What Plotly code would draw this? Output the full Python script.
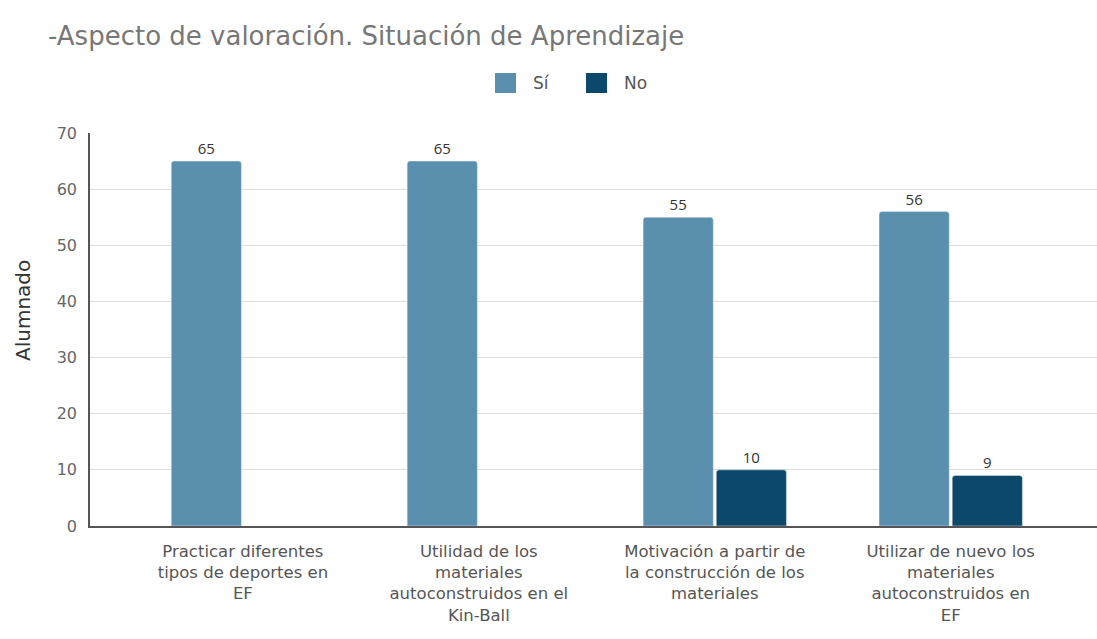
import plotly.graph_objects as go

categories = [
    "Practicar diferentes<br>tipos de deportes en<br>EF",
    "Utilidad de los<br>materiales<br>autoconstruidos en el<br>Kin-Ball",
    "Motivación a partir de<br>la construcción de los<br>materiales",
    "Utilizar de nuevo los<br>materiales<br>autoconstruidos en<br>EF",
]
series_names = ["Sí", "No"]
si_values = [65, 65, 55, 56]
no_values = [None, None, 10, 9]
y_ticks = [0, 10, 20, 30, 40, 50, 60, 70]

x_pos = list(range(len(categories)))

SI_COLOR = "#5a8fae"
NO_COLOR = "#0b4869"
LABEL_FONT = dict(family="Open Sans", size=15, color="#333333")

# plot area in pixels, used to place the hand-built legend and axis title
W, H = 1097, 639
L, R, T, B = 90, 0, 133, 113
PW, PH = W - L - R, H - T - B


def px_x(px):
    return (px - L) / PW


def px_y(py):
    return (H - B - py) / PH


fig = go.Figure()
for name, vals, color in [(series_names[0], si_values, SI_COLOR),
                          (series_names[1], no_values, NO_COLOR)]:
    fig.add_trace(go.Bar(
        x=x_pos, y=vals, name=name,
        marker=dict(color=color, cornerradius=3),
        text=vals, textposition="outside", textfont=LABEL_FONT,
        cliponaxis=False, showlegend=False,
    ))

# legend: coloured squares with their labels, centred above the bars
legend_items = [(series_names[0], SI_COLOR, 495), (series_names[1], NO_COLOR, 586)]
shapes = []
annotations = []
for name, color, left in legend_items:
    shapes.append(dict(
        type="rect", xref="paper", yref="paper",
        x0=px_x(left), x1=px_x(left + 21), y0=px_y(93), y1=px_y(73),
        fillcolor=color, line=dict(width=0),
    ))
    annotations.append(dict(
        text=name, xref="paper", yref="paper",
        x=px_x(left + 36), y=px_y(83), xanchor="left", yanchor="middle",
        showarrow=False,
        font=dict(family="DejaVu Sans", size=17, color="#555555"),
    ))

# y axis title
annotations.append(dict(
    text="Alumnado", xref="paper", yref="paper",
    x=px_x(23), y=px_y(311), xanchor="center", yanchor="middle",
    textangle=-90, showarrow=False,
    font=dict(family="DejaVu Sans", size=20, color="#333333"),
))

fig.update_layout(
    width=W, height=H,
    paper_bgcolor="white", plot_bgcolor="white",
    margin=dict(l=L, r=R, t=T, b=B),
    barmode="group", bargap=0.38, bargroupgap=0.04,
    font=dict(family="DejaVu Sans", color="#666666"),
    title=dict(
        text="-Aspecto de valoración. Situación de Aprendizaje",
        font=dict(family="DejaVu Sans", size=26, color="#777777"),
        x=48 / W, xanchor="left", y=1 - 36 / H, yanchor="middle",
    ),
    shapes=shapes,
    annotations=annotations,
    showlegend=False,
)
fig.update_xaxes(
    tickvals=x_pos, ticktext=categories, range=[-0.648, 3.62],
    showline=True, linecolor="#555555", linewidth=1.5,
    tickfont=dict(family="DejaVu Sans", size=16.5, color="#555555"),
    ticks="", showgrid=False, zeroline=False, ticklabelstandoff=9,
)
fig.update_yaxes(
    range=[0, 70], tickvals=y_ticks,
    showline=True, linecolor="#555555", linewidth=1.5,
    showgrid=True, gridcolor="#dddddd", zeroline=False,
    tickfont=dict(family="DejaVu Sans", size=16, color="#666666"),
    ticklabelstandoff=8,
)

fig.write_html("out.html")
